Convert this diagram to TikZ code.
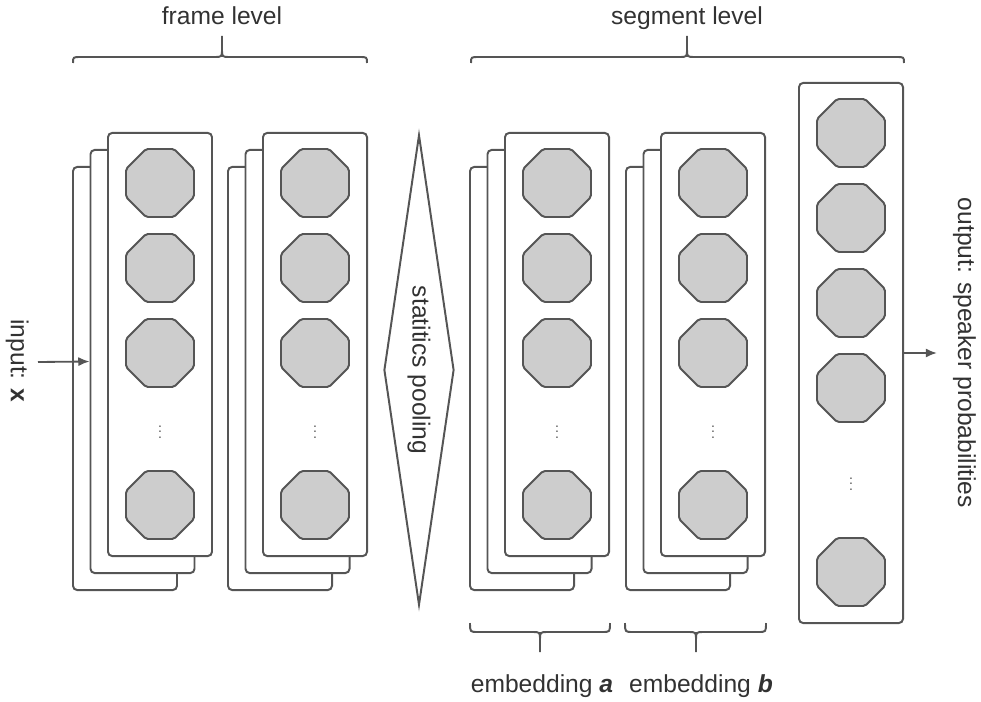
\documentclass[tikz,border=0pt]{standalone}
\usepackage{fontspec}
\setmainfont{Liberation Sans}
\usetikzlibrary{shapes.geometric,arrows.meta}

\definecolor{linegray}{RGB}{85,85,85}
\definecolor{unitgray}{RGB}{205,205,205}
\definecolor{textgray}{RGB}{50,50,50}

\tikzset{
  layer/.style={draw=linegray, line width=1.4pt, fill=white, rounded corners=3pt,
    minimum width=2.6cm, minimum height=10.575cm, inner sep=0pt},
  unit/.style={draw=linegray, line width=1.4pt, fill=unitgray, regular polygon,
    regular polygon sides=8, minimum size=1.84cm, inner sep=0pt, rounded corners=1.5pt},
  dotsnode/.style={text=linegray, inner sep=0pt},
  brace/.style={draw=linegray, line width=1.4pt},
  txt/.style={text=textgray, font=\fontsize{17.5}{21}\selectfont},
  arr/.style={draw=linegray, line width=1.3pt, -{Latex[length=8pt,width=6.5pt]}},
}

\begin{document}
\begin{tikzpicture}[x=0.025cm, y=-0.025cm]
        \useasboundingbox (0,0) rectangle (981,702);

        % frame level and segment level stacks
        \foreach \s/\x in {1/160,2/315,3/557,4/713} {
          \node[layer] (back\s) at (\x-35,378.5) {};
          \node[layer] (mid\s) at (\x-17.5,361.5) {};
          \node[layer] (front\s) at (\x,344.5) {};
          \foreach \u/\y in {1/183,2/268,3/353,4/505}
            \node[unit] (u\s-\u) at (\x,\y) {};
          \node[dotsnode] (dots\s) at (\x,428) {$\vdots$};
        }

        % output layer
        \node[layer, minimum height=13.5cm] (outl) at (851,353) {};
        \foreach \u/\y in {1/133,2/218,3/303,4/388,5/572}
          \node[unit] (o\u) at (851,\y) {};
        \node[dotsnode] (odots) at (851,480) {$\vdots$};

        % pooling
        \node[diamond, aspect=6.7, draw=linegray, line width=1.4pt, rotate=-90, inner sep=0pt,
          minimum width=11.75cm, minimum height=1.75cm, txt] (pool) at (419,370) {statitics pooling};

        % input and output
        \coordinate (inp) at (38,362);
        \draw[arr] (inp) -- (mid1.west);
        \node[txt, rotate=-90, anchor=base] (inlbl) at (11,361) {input: \textbf{x}};

        \coordinate (outp) at (937,353);
        \draw[arr] (outl.east) -- (outp);
        \node[txt, rotate=-90, anchor=base] (outlbl) at (958,353) {output: speaker probabilities};

        % braces
        \draw[brace] (73,63) .. controls (73,57) .. (81,57) -- (214,57) .. controls (222,57) .. (222,49) -- (222,36)
          -- (222,49) .. controls (222,57) .. (230,57) -- (359,57) .. controls (367,57) .. (367,63);
        \draw[brace] (471,63) .. controls (471,57) .. (479,57) -- (679,57) .. controls (687,57) .. (687,49) -- (687,36)
          -- (687,49) .. controls (687,57) .. (695,57) -- (896,57) .. controls (904,57) .. (904,63);
        \draw[brace] (470,623) .. controls (470,632) .. (478,632) -- (532,632) .. controls (540,632) .. (540,640) -- (540,652)
          -- (540,640) .. controls (540,632) .. (548,632) -- (602,632) .. controls (610,632) .. (610,623);
        \draw[brace] (625,623) .. controls (625,632) .. (633,632) -- (688,632) .. controls (696,632) .. (696,640) -- (696,652)
          -- (696,640) .. controls (696,632) .. (704,632) -- (758,632) .. controls (766,632) .. (766,623);

        \node[txt, anchor=base] (framelbl) at (222,25) {frame level};
        \node[txt, anchor=base] (seglbl) at (687,25) {segment level};
        \node[txt, anchor=base] (emba) at (542,692) {embedding \textbf{\textit{a}}};
        \node[txt, anchor=base] (embb) at (701,692) {embedding \textbf{\textit{b}}};

    \end{tikzpicture}
\end{document}
